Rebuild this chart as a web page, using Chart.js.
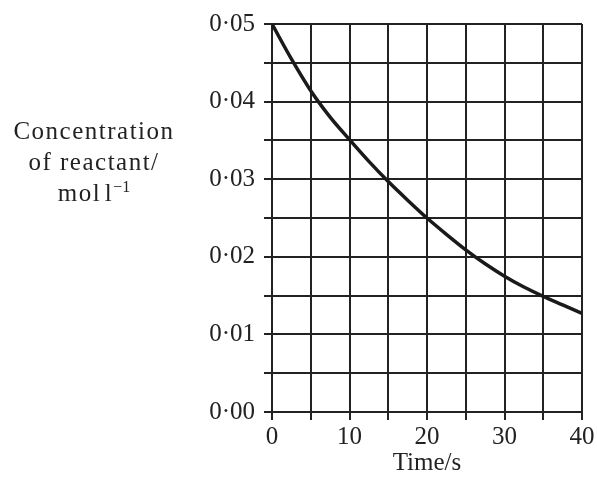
<!DOCTYPE html>
<html>
<head>
<meta charset="utf-8">
<script src="https://cdn.jsdelivr.net/npm/chart.js@4"></script>
<style>
  html,body{margin:0;padding:0;background:#fff;}
  #wrap{position:relative;width:597px;height:478px;}
  #ytitle{position:absolute;left:0;top:115px;width:188px;text-align:center;
    font-family:"Liberation Serif",serif;font-size:25px;line-height:31px;
    letter-spacing:1.5px;color:#222;}
  #ytitle sup{font-size:16px;vertical-align:9px;line-height:0;letter-spacing:0;}
</style>
</head>
<body>
<div id="wrap">
  <canvas id="chart" width="597" height="478"></canvas>
  <div id="ytitle">Concentration<br>of reactant/<br>mol&#8202;l<sup>&minus;1</sup></div>
</div>
<script>
// values
const tempos = [0, 2.5, 5, 7.5, 10, 12.5, 15, 17.5, 20, 22.5, 25, 27.5, 30, 32.5, 35, 37.5, 40];
const concentracao = [0.0500, 0.0455, 0.0414, 0.0380, 0.0351, 0.0323, 0.0297, 0.0273, 0.0250,
                      0.0229, 0.0209, 0.0191, 0.0175, 0.0161, 0.0149, 0.0138, 0.0127];
const xTicks = ['0', '10', '20', '30', '40'];
const yTicks = ['0·00', '0·01', '0·02', '0·03', '0·04', '0·05'];

const fonte = {family: '"Liberation Serif", serif', size: 25};
const cor = '#222';

const pontos = tempos.map((t, i) => ({x: t, y: concentracao[i]}));

new Chart(document.getElementById('chart'), {
  type: 'line',
  data: {datasets: [{data: pontos, borderColor: '#1a1a1a', borderWidth: 3.5,
    pointRadius: 0, cubicInterpolationMode: 'monotone', fill: false}]},
  options: {
    responsive: false, animation: false,
    layout: {padding: {top: 23, right: 15, left: 0, bottom: 0}},
    plugins: {legend: {display: false}, tooltip: {enabled: false}},
    scales: {
      x: {
        type: 'linear', min: 0, max: 40,
        afterFit: s => { s.height = 66; },
        ticks: {stepSize: 5, color: cor, font: fonte, padding: 2, maxRotation: 0,
          callback: (v, i) => i % 2 === 0 ? xTicks[i / 2] : ''},
        grid: {color: cor, lineWidth: 2, tickLength: 8},
        border: {color: cor, width: 2},
        title: {display: true, text: 'Time/s', color: cor, font: fonte, padding: {top: 3, bottom: 0}}
      },
      y: {
        min: 0, max: 0.05,
        afterFit: s => { s.width = 272; },
        ticks: {stepSize: 0.005, color: cor, font: fonte, padding: 9,
          callback: (v, i) => i % 2 === 0 ? yTicks[i / 2] : ''},
        grid: {color: cor, lineWidth: 2, tickLength: 8},
        border: {color: cor, width: 2}
      }
    }
  }
});
</script>
</body>
</html>
